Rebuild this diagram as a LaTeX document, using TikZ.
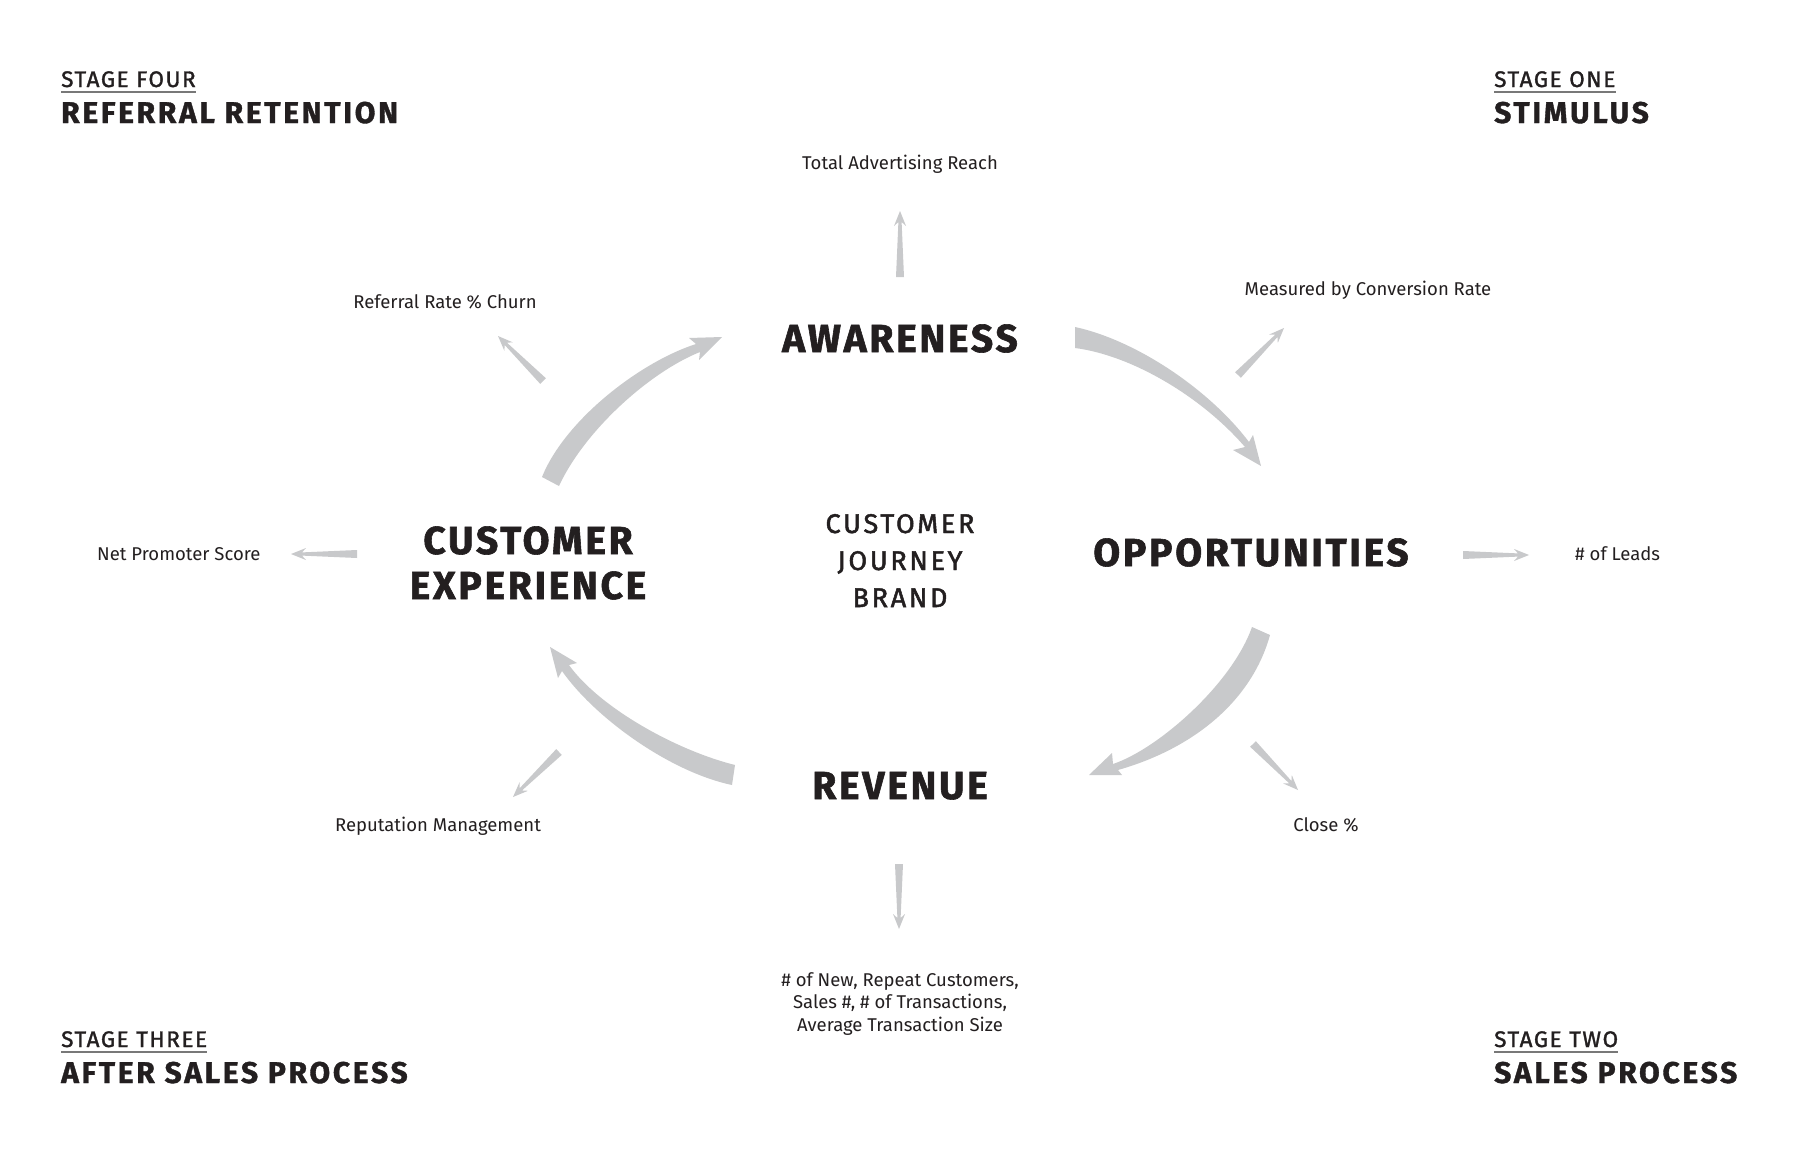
\documentclass[tikz,border=0pt]{standalone}
\usepackage{fontspec}
\setmainfont{Fira Sans}
\newfontfamily\labfont[LetterSpace=7,BoldFeatures={FakeBold=1.5}]{Fira Sans}
\newfontfamily\ttlfont[LetterSpace=9,BoldFeatures={FakeBold=1.2}]{Fira Sans}
\newfontfamily\medfont[FakeBold=1.8,LetterSpace=10]{Fira Sans}
\newfontfamily\stgfont[FakeBold=1.5,LetterSpace=7]{Fira Sans}
\usetikzlibrary{calc}
\definecolor{ink}{RGB}{35,31,32}
\definecolor{arrowgray}{RGB}{200,201,203}
\definecolor{rulegray}{RGB}{120,120,120}
\newcommand\taper[2]{%
  \path ($(#2)!11pt!(#1)$) coordinate (tN) ($(#2)!15pt!(#1)$) coordinate (tM);
  \fill[arrowgray] ($(#1)!4pt!90:(#2)$) -- ($(tN)!1.6pt!90:(#2)$) -- ($(tM)!6pt!90:(#2)$) -- (#2)
    -- ($(tM)!6pt!-90:(#2)$) -- ($(tN)!1.6pt!-90:(#2)$) -- ($(#1)!4pt!-90:(#2)$) -- cycle;}
\tikzset{
  big/.style={font=\labfont\bfseries\fontsize{39}{45}\selectfont, text=ink, inner sep=0pt, align=center},
  mid/.style={font=\medfont\fontsize{27}{37}\selectfont, text=ink, inner sep=0pt, align=center},
  small/.style={font=\fontsize{18.5}{22.4}\selectfont, text=ink, inner sep=0pt, align=center},
  stagelbl/.style={font=\stgfont\fontsize{22.5}{26}\selectfont, text=ink, inner sep=0pt, anchor=base west},
  stagettl/.style={font=\ttlfont\bfseries\fontsize{30}{34}\selectfont, text=ink, inner sep=0pt, anchor=base west},
  ul/.style={draw=rulegray, line width=1.3pt},
  bigarrow/.style={fill=arrowgray}
}
\begin{document}
\begin{tikzpicture}[x=1pt,y=-1pt]
\useasboundingbox (0,0) rectangle (1800,1159);
\fill[white] (0,0) rectangle (1800,1159);

% stage headings
\node[stagelbl] (s4l) at (61,87) {STAGE FOUR};
\node[stagettl] (s4t) at (61,123) {REFERRAL RETENTION};
\node[stagelbl] (s1l) at (1494,87) {STAGE ONE};
\node[stagettl] (s1t) at (1494,123) {STIMULUS};
\node[stagelbl] (s3l) at (61,1047) {STAGE THREE};
\node[stagettl] (s3t) at (61,1083) {AFTER SALES PROCESS};
\node[stagelbl] (s2l) at (1494,1047) {STAGE TWO};
\node[stagettl] (s2t) at (1494,1083) {SALES PROCESS};
\foreach \s in {s4l,s1l,s3l,s2l}{
  \draw[ul] ([yshift=-4.5pt]\s.south west) -- ([yshift=-4.5pt]\s.south east);
}

% main labels (base anchor = baseline of last line)
\node[big, anchor=base] (aw) at (900,352) {AWARENESS};
\node[big, anchor=base] (op) at (1251,566) {OPPORTUNITIES};
\node[big, anchor=base] (rv) at (900,799) {REVENUE};
\node[big, anchor=base] (cx) at (528,599) {CUSTOMER\\EXPERIENCE};
\node[mid, anchor=base] (cjb) at (900,607) {CUSTOMER\\JOURNEY\\BRAND};

% metric labels
\node[small, anchor=base] (tar) at (900,169) {Total Advertising Reach};
\node[small, anchor=base] (mcr) at (1368,295) {Measured by Conversion Rate};
\node[small, anchor=base west] (leads) at (1575,560) {\# of Leads};
\node[small, anchor=base] (close) at (1326,831) {Close \%};
\node[small, anchor=base] (newc) at (900,1031) {\# of New, Repeat Customers,\\Sales \#, \# of Transactions,\\Average Transaction Size};
\node[small, anchor=base] (rep) at (438,831) {Reputation Management};
\node[small, anchor=base west] (nps) at (97,560) {Net Promoter Score};
\node[small, anchor=base] (rrc) at (445,308) {Referral Rate \% Churn};

% big curved arrows
\fill[bigarrow] (1075,327) .. controls (1135,340) and (1208,388) .. (1249,442) -- (1253,435) -- (1261,466)
  -- (1233,450) -- (1245,447) .. controls (1200,395) and (1130,355) .. (1075,348) -- cycle;
\fill[bigarrow] (1252,627) -- (1270,635) .. controls (1252,700) and (1195,748) .. (1118,770) -- (1122,775)
  -- (1089,775) -- (1112,753) -- (1113,764) .. controls (1158,749) and (1232,684) .. (1252,627) -- cycle;
\fill[bigarrow] (735,765) .. controls (675,750) and (599,707) .. (569,665) -- (577,663) -- (550,647)
  -- (558,678) -- (562,671) .. controls (595,718) and (670,772) .. (732,785) -- cycle;
\fill[bigarrow] (542,477) .. controls (565,420) and (640,362) .. (696,344) -- (689,338) -- (722,337)
  -- (699,360) -- (700,352) .. controls (650,372) and (585,430) .. (559,486) -- cycle;

% small tapered arrows
\coordinate (a1b) at (900,277);  \coordinate (a1t) at (900,211);
\coordinate (a2b) at (1238,375); \coordinate (a2t) at (1284,328);
\coordinate (a3b) at (1463,555); \coordinate (a3t) at (1529,555);
\coordinate (a4b) at (1253,744); \coordinate (a4t) at (1298,790);
\coordinate (a5b) at (899,864);  \coordinate (a5t) at (899,929);
\coordinate (a6b) at (559,752);  \coordinate (a6t) at (513,797);
\coordinate (a7b) at (357,554);  \coordinate (a7t) at (291,554);
\coordinate (a8b) at (543,381);  \coordinate (a8t) at (498,336);
\taper{a1b}{a1t}
\taper{a2b}{a2t}
\taper{a3b}{a3t}
\taper{a4b}{a4t}
\taper{a5b}{a5t}
\taper{a6b}{a6t}
\taper{a7b}{a7t}
\taper{a8b}{a8t}
\end{tikzpicture}
\end{document}
